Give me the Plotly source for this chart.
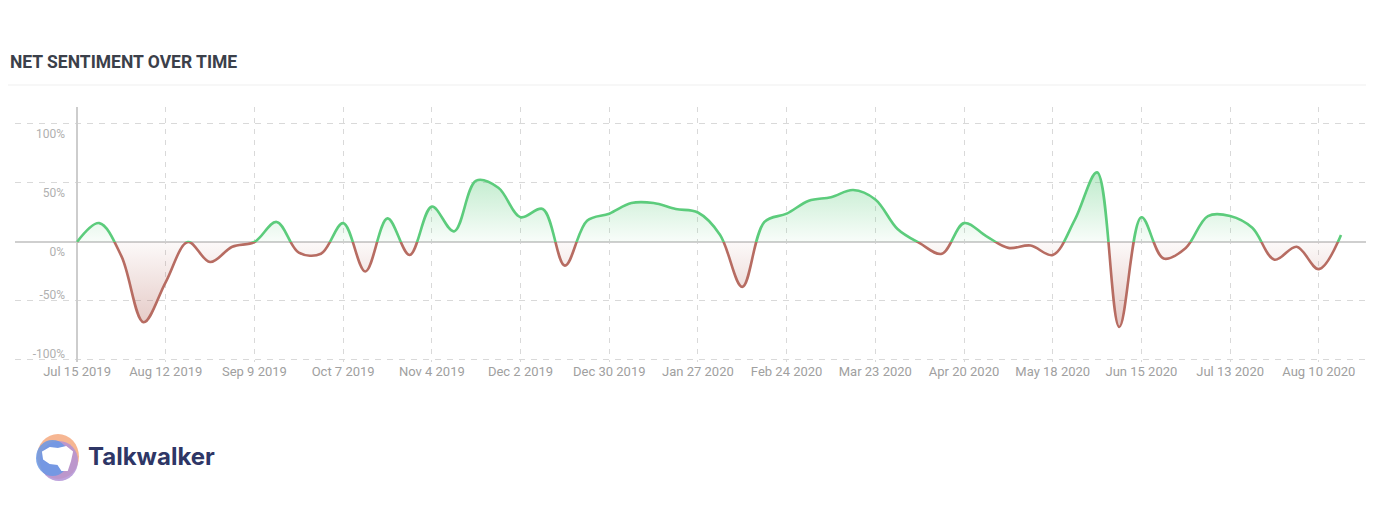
import pandas as pd
import plotly.graph_objects as go

# ---------------- data ----------------
start_week = "2019-07-15"
n_weeks = 58
net_sentiment = [0, 16, -12, -68, -34, 0, -17, -4, 0, 17, -9, -10, 16, -25, 20, -11,
                 30, 9, 52, 46, 21, 28, -20, 18, 24, 33, 33, 28, 25, 6, -38, 17, 24,
                 35, 38, 44, 36, 11, -1, -10, 16, 5, -5, -3, -11, 19, 59, -72, 21,
                 -14, -5, 22, 22, 12, -15, -4, -23, 6]
weeks = pd.date_range(start_week, periods=n_weeks, freq="7D")

tick_dates = ["2019-07-15", "2019-08-12", "2019-09-09", "2019-10-07", "2019-11-04",
              "2019-12-02", "2019-12-30", "2020-01-27", "2020-02-24", "2020-03-23",
              "2020-04-20", "2020-05-18", "2020-06-15", "2020-07-13", "2020-08-10"]
tick_labels = ["Jul 15 2019", "Aug 12 2019", "Sep 9 2019", "Oct 7 2019", "Nov 4 2019",
               "Dec 2 2019", "Dec 30 2019", "Jan 27 2020", "Feb 24 2020", "Mar 23 2020",
               "Apr 20 2020", "May 18 2020", "Jun 15 2020", "Jul 13 2020", "Aug 10 2020"]
y_ticks = [-100, -50, 0, 50, 100]
y_ticks_upper = [0, 50, 100]
y_labels_upper = ["0%", "50%", "100%"]
y_ticks_lower = [-100, -50]
y_labels_lower = ["-100%", "-50%"]

# ---------------- geometry (page offset of 8px from body margin) ----------------
OFF = 8
W, H = 1374 - OFF, 508 - OFF
PLOT_L, PLOT_R, PLOT_T, PLOT_B = 15, 1374, 107, 362   # in page pixels
ML, MR = PLOT_L - OFF, 1374 - PLOT_R
MT, MB = PLOT_T - OFF, 508 - PLOT_B
PW, PH = W - ML - MR, H - MT - MB
Y_MIN, Y_MAX = -101.7, 114.4
X_RANGE = ["2019-06-25 10:00", "2020-08-27 10:00"]
f_zero = (0 - Y_MIN) / (Y_MAX - Y_MIN)


def px_x(px):
    return (px - PLOT_L) / PW


def px_y(py):
    return (PLOT_B - py) / PH


GREEN = "rgb(92,204,124)"
RED = "rgb(183,108,98)"
FONT = "Roboto"
AXIS_POS = px_x(77)

fig = go.Figure()

# gradient fill (both signs) on the main axis
fig.add_trace(go.Scatter(
    x=weeks, y=net_sentiment, mode="lines",
    line=dict(shape="spline", smoothing=1.0, width=0, color="rgba(0,0,0,0)"),
    fill="tozeroy",
    fillgradient=dict(
        type="vertical", start=-75, stop=60,
        colorscale=[[0.0, "rgba(183,108,98,0.38)"],
                    [0.5555, "rgba(183,108,98,0.04)"],
                    [0.5556, "rgba(92,204,124,0.04)"],
                    [1.0, "rgba(92,204,124,0.40)"]]),
    hoverinfo="skip", showlegend=False, xaxis="x", yaxis="y"))

# green line, clipped to the positive half
fig.add_trace(go.Scatter(
    x=weeks, y=net_sentiment, mode="lines",
    line=dict(shape="spline", smoothing=1.0, width=2.6, color=GREEN),
    showlegend=False, xaxis="x2", yaxis="y2"))

# red line, clipped to the negative half
fig.add_trace(go.Scatter(
    x=weeks, y=net_sentiment, mode="lines",
    line=dict(shape="spline", smoothing=1.0, width=2.6, color=RED),
    showlegend=False, xaxis="x3", yaxis="y3"))

# invisible carriers for the two label axes
for ax in ("y4", "y5"):
    fig.add_trace(go.Scatter(x=weeks[:1], y=net_sentiment[:1], mode="lines",
                             line=dict(width=0), hoverinfo="skip", showlegend=False,
                             xaxis="x", yaxis=ax))

grid = "#d9d9d9"
label_font = dict(size=12, color="#b0b0b0", family=FONT)
fig.update_layout(
    width=W, height=H,
    margin=dict(l=ML, r=MR, t=MT, b=MB),
    paper_bgcolor="white", plot_bgcolor="rgba(0,0,0,0)",
    font=dict(family=FONT, color="#9b9b9b", size=12),
    xaxis=dict(type="date", range=X_RANGE, tickvals=tick_dates, ticktext=tick_labels,
               showgrid=True, gridcolor=grid, griddash="5px,6px", gridwidth=1,
               zeroline=False, showline=False, ticks="",
               tickfont=dict(size=13, color="#a0a0a0", family=FONT),
               ticklabelstandoff=0),
    yaxis=dict(range=[Y_MIN, Y_MAX], tickvals=y_ticks, showticklabels=False,
               anchor="free", position=AXIS_POS, side="left",
               showline=True, linecolor="#cdcdcd", linewidth=1.5,
               showgrid=True, gridcolor=grid, griddash="6px,6px", gridwidth=1,
               zeroline=True, zerolinecolor="#cfcfcf", zerolinewidth=2, ticks=""),
    yaxis4=dict(range=[Y_MIN, Y_MAX], overlaying="y", anchor="free", position=AXIS_POS,
                side="left", tickvals=y_ticks_upper, ticktext=y_labels_upper,
                showgrid=False, zeroline=False, showline=False, ticks="",
                ticklabelshift=10, ticklabelstandoff=12, tickfont=label_font),
    yaxis5=dict(range=[Y_MIN, Y_MAX], overlaying="y", anchor="free", position=AXIS_POS,
                side="left", tickvals=y_ticks_lower, ticktext=y_labels_lower,
                showgrid=False, zeroline=False, showline=False, ticks="",
                ticklabelshift=-6, ticklabelstandoff=12, tickfont=label_font),
    xaxis2=dict(type="date", range=X_RANGE, overlaying="x", anchor="y2", visible=False,
                showgrid=False, zeroline=False),
    yaxis2=dict(range=[0, Y_MAX], domain=[f_zero, 1], anchor="x2", visible=False,
                showgrid=False, zeroline=False),
    xaxis3=dict(type="date", range=X_RANGE, overlaying="x", anchor="y3", visible=False,
                showgrid=False, zeroline=False),
    yaxis3=dict(range=[Y_MIN, 0], domain=[0, f_zero], anchor="x3", visible=False,
                showgrid=False, zeroline=False),
)

# title and separator
fig.add_annotation(text="<b>NET SENTIMENT OVER TIME</b>", xref="paper", yref="paper",
                   x=px_x(8), y=px_y(62), xanchor="left", yanchor="middle",
                   showarrow=False, font=dict(family=FONT, size=17.5, color="#3b404a"))
fig.add_shape(type="line", xref="paper", yref="paper", x0=px_x(8), x1=px_x(1374),
              y0=px_y(85), y1=px_y(85), line=dict(color="#efefef", width=1))


# Talkwalker logo
def oval(x0, y0, x1, y1, color):
    fig.add_shape(type="circle", xref="paper", yref="paper",
                  x0=px_x(x0), x1=px_x(x1), y0=px_y(y1), y1=px_y(y0),
                  fillcolor=color, line=dict(width=0), layer="above")


oval(37, 434, 79, 479, "rgba(246,178,140,0.95)")
oval(40, 441, 78, 481, "rgba(178,146,214,0.85)")
oval(36, 440, 69, 476, "rgba(104,152,230,0.85)")
blob = [(43, 452), (50, 448), (58, 449), (66, 447), (72, 452), (70, 461), (67, 470),
        (62, 470), (58, 464), (50, 463), (44, 459)]
path = "M " + " L ".join(f"{px_x(a)},{px_y(b)}" for a, b in blob) + " Z"
fig.add_shape(type="path", xref="paper", yref="paper", path=path,
              fillcolor="white", line=dict(color="white", width=2), layer="above")
fig.add_annotation(text="<b>Talkwalker</b>", xref="paper", yref="paper",
                   x=px_x(86), y=px_y(456), xanchor="left", yanchor="middle",
                   showarrow=False, font=dict(family="Inter", size=24, color="#2e3666"))

fig.write_html("out.html")
